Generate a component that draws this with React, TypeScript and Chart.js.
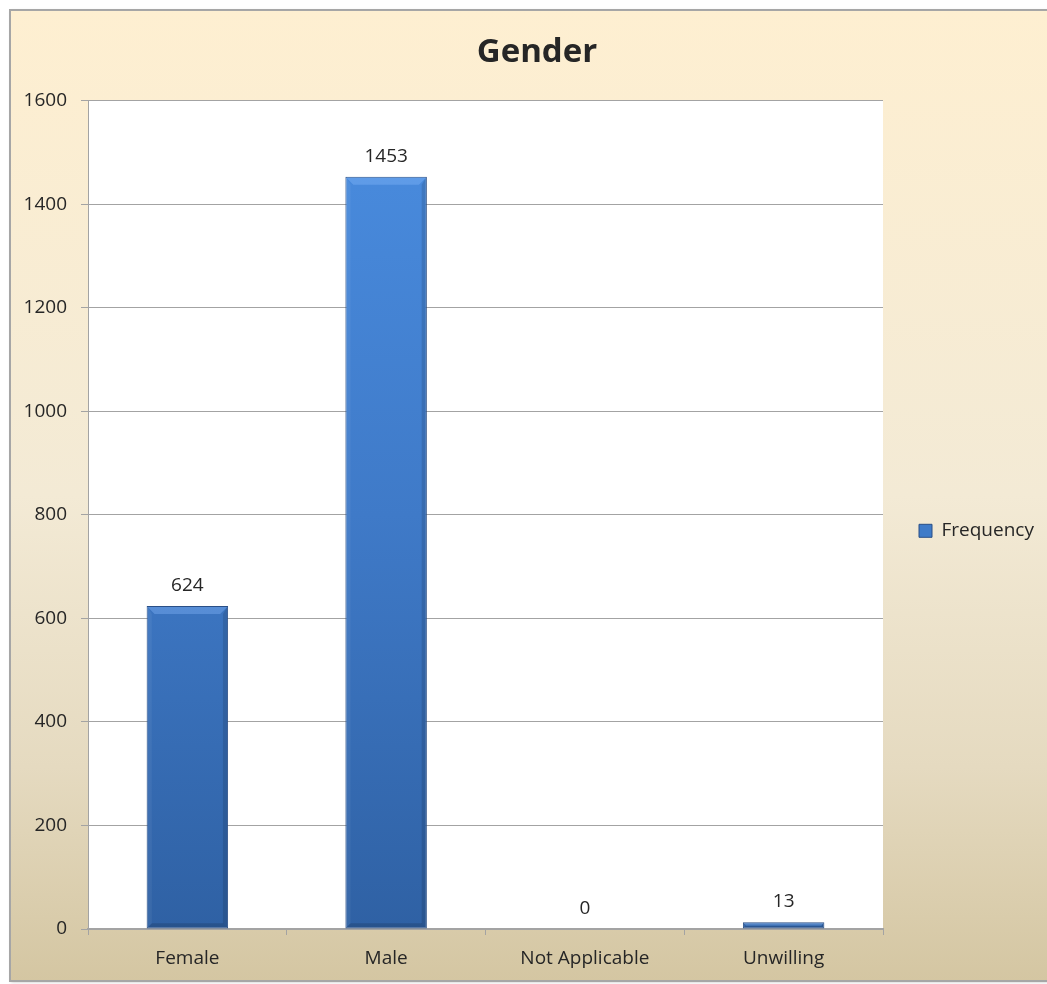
import React, { useEffect, useRef } from 'react';
import { Chart, registerables } from 'chart.js';

Chart.register(...registerables);

// ---- data ----
const chartTitle = 'Gender';
const seriesName = 'Frequency';
const categories = ['Female', 'Male', 'Not Applicable', 'Unwilling'];
const frequency = [624, 1453, 0, 13];
const yTickValues = [0, 200, 400, 600, 800, 1000, 1200, 1400, 1600];

// ---- layout / style constants ----
const W = 1047;
const H = 984;
const FONT = '"Open Sans", "DejaVu Sans", sans-serif';
const FS = 19;
const TEXT = '#262626';
const AXIS = '#a3a3a3';
const PLOT_LEFT = 88;
const PLOT_RIGHT = 883;
const LEGEND_PAD = 36;
const BOX = 13;
const TITLE_SHIFT = 27;
const MIN_PAD_L = 14;

const framePlugin = {
  id: 'frame',
  beforeDraw(chart: any) {
    const { ctx, chartArea } = chart;
    ctx.save();
    ctx.fillStyle = '#ffffff';
    ctx.fillRect(0, 0, W, H);
    const g = ctx.createLinearGradient(0, 10, 0, 981);
    g.addColorStop(0, '#feefd1');
    g.addColorStop(0.5, '#f3ead5');
    g.addColorStop(0.78, '#e5dac0');
    g.addColorStop(1, '#d4c6a2');
    ctx.shadowColor = 'rgba(0,0,0,0.25)';
    ctx.shadowBlur = 3;
    ctx.shadowOffsetX = 1;
    ctx.shadowOffsetY = 1;
    ctx.fillStyle = g;
    ctx.fillRect(10, 10, W + 10, 971);
    ctx.shadowColor = 'transparent';
    ctx.lineWidth = 2;
    ctx.strokeStyle = '#a6a6a6';
    ctx.strokeRect(10, 10, W + 10, 971);
    if (chartArea) {
      ctx.fillStyle = '#ffffff';
      ctx.fillRect(chartArea.left, chartArea.top, chartArea.right - chartArea.left, chartArea.bottom - chartArea.top);
    }
    ctx.restore();
  },
};

const barDecorPlugin = {
  id: 'barDecor',
  afterDatasetsDraw(chart: any) {
    const { ctx } = chart;
    const meta = chart.getDatasetMeta(0);
    ctx.save();
    meta.data.forEach((el: any, i: number) => {
      const w = el.width;
      const x0 = el.x - w / 2 + 1;
      const x1 = el.x + w / 2 - 1;
      const y0 = el.y + 1;
      const y1 = el.base - 1;
      const h = y1 - y0;
      if (h > 2) {
        const b = Math.min(7, h / 2);
        ctx.beginPath();
        ctx.moveTo(x0, y0); ctx.lineTo(x1, y0); ctx.lineTo(x1 - b, y0 + b); ctx.lineTo(x0 + b, y0 + b); ctx.closePath();
        ctx.fillStyle = 'rgba(140,190,255,0.35)';
        ctx.fill();
        ctx.beginPath();
        ctx.moveTo(x0, y0); ctx.lineTo(x0 + b * 0.6, y0 + b); ctx.lineTo(x0 + b * 0.6, y1 - b * 0.6); ctx.lineTo(x0, y1); ctx.closePath();
        ctx.fillStyle = 'rgba(255,255,255,0.05)';
        ctx.fill();
        ctx.beginPath();
        ctx.moveTo(x1, y0); ctx.lineTo(x1 - b * 0.6, y0 + b); ctx.lineTo(x1 - b * 0.6, y1 - b * 0.6); ctx.lineTo(x1, y1); ctx.closePath();
        ctx.fillStyle = 'rgba(0,0,0,0.12)';
        ctx.fill();
        ctx.beginPath();
        ctx.moveTo(x0, y1); ctx.lineTo(x1, y1); ctx.lineTo(x1 - b * 0.6, y1 - b * 0.6); ctx.lineTo(x0 + b * 0.6, y1 - b * 0.6); ctx.closePath();
        ctx.fillStyle = 'rgba(0,0,0,0.14)';
        ctx.fill();
      }
      ctx.fillStyle = TEXT;
      ctx.font = `${FS}px ${FONT}`;
      ctx.textAlign = 'center';
      ctx.textBaseline = 'alphabetic';
      ctx.fillText(String(frequency[i]), el.x, el.y - 15);
    });
    ctx.restore();
  },
};

export default function App() {
  const ref = useRef<HTMLCanvasElement>(null);

  useEffect(() => {
    const canvas = ref.current;
    if (!canvas) return;
    const m = document.createElement('canvas').getContext('2d')!;
    m.font = `${FS}px ${FONT}`;
    // legend must be wide enough so the full-width title centres where the reference has it
    const baseW = LEGEND_PAD + BOX + FS / 2 + m.measureText(seriesName).width + 10;
    const targetLegendW = W - PLOT_RIGHT - (MIN_PAD_L - TITLE_SHIFT);
    const spaceW = m.measureText('\u00a0').width || 5;
    const nSp = Math.max(0, Math.ceil((targetLegendW - baseW) / spaceW));
    const legendText = seriesName + '\u00a0'.repeat(nSp);
    const legendW = LEGEND_PAD + BOX + FS / 2 + m.measureText(legendText).width + 10;
    const padR = W - PLOT_RIGHT - legendW;
    const padL = padR + TITLE_SHIFT;
    const yW = PLOT_LEFT - padL;

    const font = { family: FONT, size: FS };

    const chart = new Chart(canvas, {
      type: 'bar',
      data: {
        labels: categories,
        datasets: [
          {
            label: seriesName,
            data: frequency,
            backgroundColor: (c: any) => {
              const area = c.chart.chartArea;
              if (!area) return '#3f7bc8';
              const g = c.chart.ctx.createLinearGradient(0, area.top, 0, area.bottom);
              g.addColorStop(0, '#4a8de0');
              g.addColorStop(0.5, '#3f7ac8');
              g.addColorStop(1, '#2f61a4');
              return g;
            },
            borderColor: '#2a4f86',
            borderWidth: (c: any) => (c.raw === 0 ? 0 : 1),
            borderSkipped: false,
            barPercentage: 0.41,
            categoryPercentage: 1,
          },
        ],
      },
      options: {
        animation: false,
        responsive: false,
        maintainAspectRatio: false,
        devicePixelRatio: 1,
        layout: { padding: { left: padL, right: padR, top: 0, bottom: 0 } },
        plugins: {
          title: {
            display: true,
            text: chartTitle,
            color: TEXT,
            font: { family: FONT, size: 33, weight: 'bold', lineHeight: 1.2 },
            padding: { top: 33, bottom: 28 },
          },
          legend: {
            display: true,
            position: 'right',
            fullSize: false,
            title: { display: true, text: ' ', font: { size: 10, lineHeight: 1.2 }, padding: 10 },
            labels: {
              boxWidth: BOX,
              boxHeight: BOX,
              padding: LEGEND_PAD,
              color: TEXT,
              font,
              generateLabels: (ch: any) =>
                Chart.defaults.plugins.legend.labels.generateLabels(ch).map((l: any) => ({
                  ...l,
                  text: legendText,
                  fillStyle: '#3f7bc8',
                  strokeStyle: '#2a4f86',
                  lineWidth: 1,
                })),
            },
          },
          tooltip: { enabled: false },
        },
        scales: {
          x: {
            grid: { display: true, drawOnChartArea: false, drawTicks: true, tickLength: 6, color: AXIS, offset: true },
            border: { color: AXIS, width: 2 },
            ticks: { color: TEXT, font, padding: 12, maxRotation: 0 },
            afterFit: (s: any) => { s.height = 55; },
          },
          y: {
            min: 0,
            max: 1600,
            afterBuildTicks: (s: any) => { s.ticks = yTickValues.map((v) => ({ value: v })); },
            ticks: { color: TEXT, font, padding: 14, callback: (v: any) => String(v) },
            grid: { color: AXIS, tickLength: 7 },
            border: { color: AXIS, width: 1 },
            afterFit: (s: any) => { s.width = yW; },
          },
        },
      },
      plugins: [framePlugin, barDecorPlugin],
    } as any);
    return () => chart.destroy();
  }, []);

  return (
    <div style={{ position: 'fixed', left: 0, top: 0, width: W, height: H }}>
      <canvas ref={ref} width={W} height={H} style={{ display: 'block', width: W, height: H }} />
    </div>
  );
}
